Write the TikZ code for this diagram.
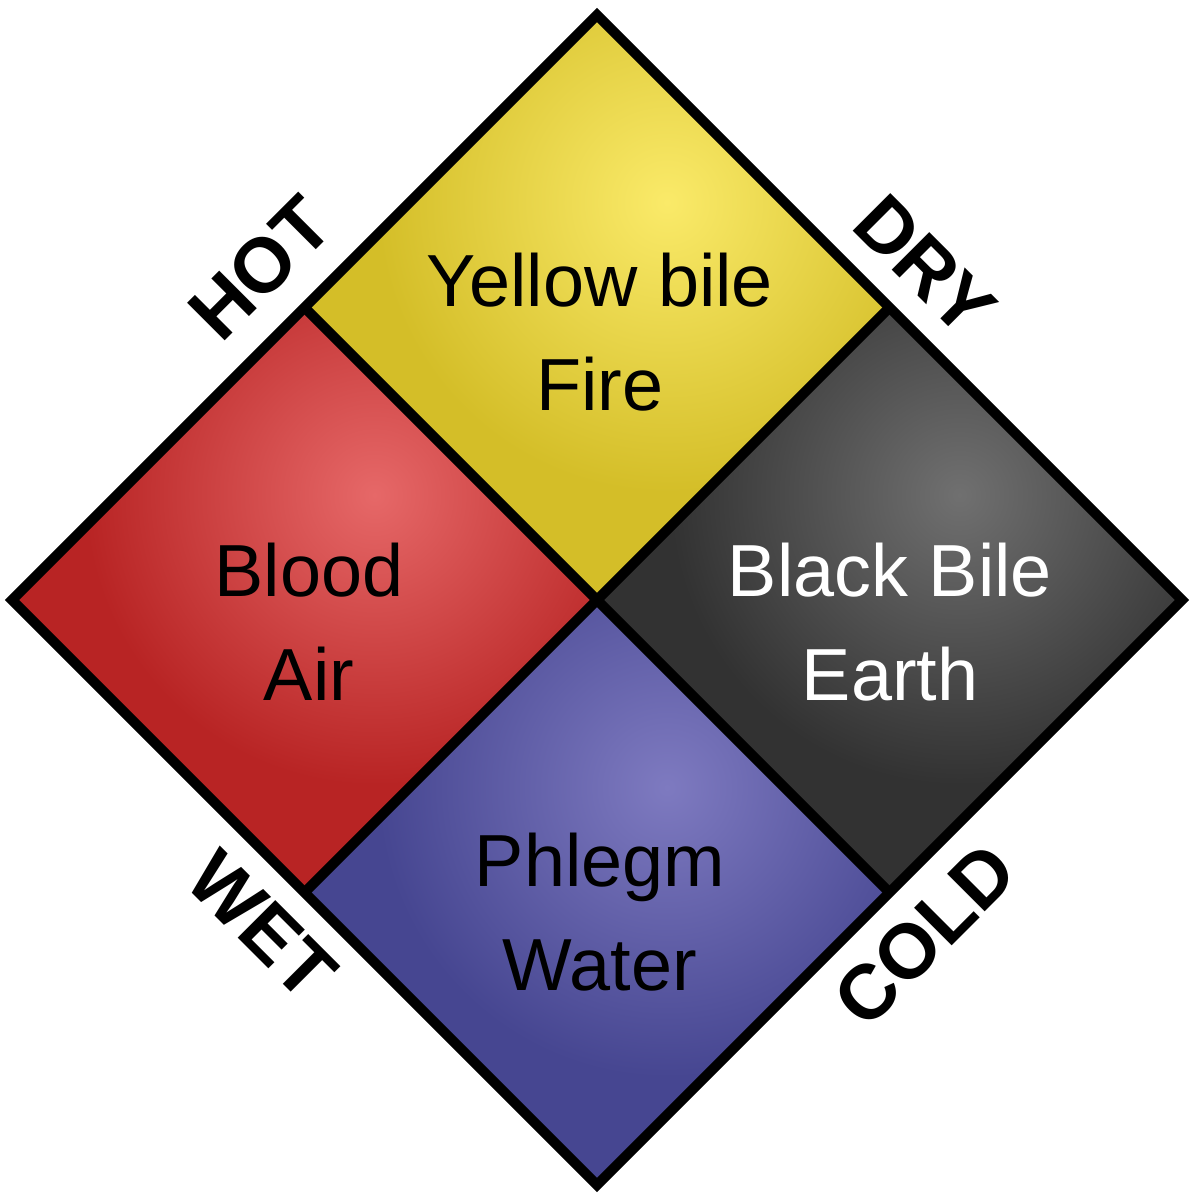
\documentclass[tikz,border=0pt]{standalone}
\usepackage{fontspec}
\setmainfont{Liberation Sans}
\usepackage{xcolor}
\usetikzlibrary{calc}

\definecolor{bileyellow}{RGB}{212,190,40}
\definecolor{bileyellowhi}{RGB}{250,234,105}
\definecolor{bloodred}{RGB}{184,36,36}
\definecolor{bloodredhi}{RGB}{230,104,104}
\definecolor{bilegray}{RGB}{50,50,50}
\definecolor{bilegrayhi}{RGB}{112,112,112}
\definecolor{phlegmblue}{RGB}{70,70,145}
\definecolor{phlegmbluehi}{RGB}{126,122,192}

\tikzset{
  edge/.style={line width=2.9pt, line join=miter},
  humour/.style={font=\fontsize{21}{29.5}\selectfont, align=center, inner sep=0pt},
  quality/.style={font=\fontsize{22}{26}\selectfont\bfseries, inner sep=0pt}
}

\begin{document}
\begin{tikzpicture}
\useasboundingbox (0,0) rectangle (11.95,12);
% Four quarters of the square: centre, base colour, highlight colour
\foreach \cx/\cy/\base/\hi in {5.97/8.925/bileyellow/bileyellowhi,
                               3.045/6.0/bloodred/bloodredhi,
                               8.895/6.0/bilegray/bilegrayhi,
                               5.97/3.075/phlegmblue/phlegmbluehi}{
  \begin{scope}
    \clip (\cx,\cy+2.925) -- (\cx+2.925,\cy) -- (\cx,\cy-2.925) -- (\cx-2.925,\cy) -- cycle;
    \fill[\base] (\cx-3,\cy-3) rectangle (\cx+3,\cy+3);
    \shade[inner color=\hi, outer color=\base] (\cx+0.7,\cy+1.05) circle (2.9);
  \end{scope}
}
% Outline and dividing lines
\coordinate (top) at (5.97,11.85);
\coordinate (left) at (0.12,6.0);
\coordinate (right) at (11.82,6.0);
\coordinate (bottom) at (5.97,0.15);
\draw[edge] (top) -- (right) -- (bottom) -- (left) -- cycle;
\draw[edge] ($(top)!0.5!(left)$) -- ($(right)!0.5!(bottom)$);
\draw[edge] ($(top)!0.5!(right)$) -- ($(left)!0.5!(bottom)$);

% Humours and elements
\node[humour] (fire) at (6.0,8.68) {Yellow bile\\Fire};
\node[humour] (air) at (3.09,5.78) {Blood\\Air};
\node[humour, white] (earth) at (8.9,5.78) {Black Bile\\Earth};
\node[humour] (water) at (6.0,2.88) {Phlegm\\Water};

% Qualities
\node[quality, rotate=45] (hot) at (2.6,9.32) {HOT};
\node[quality, rotate=-45] (dry) at (9.25,9.35) {DRY};
\node[quality, rotate=-45] (wet) at (2.62,2.75) {WET};
\node[quality, rotate=45] (cold) at (9.25,2.65) {COLD};
\end{tikzpicture}
\end{document}
